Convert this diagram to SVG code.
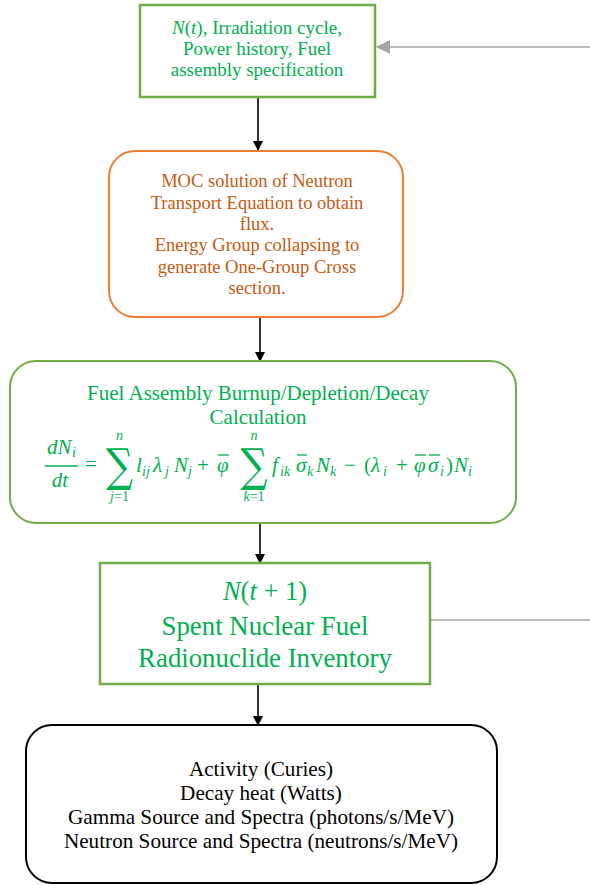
<svg xmlns="http://www.w3.org/2000/svg" width="590" height="885" viewBox="0 0 590 885">
<defs>
<marker id="ab" markerWidth="10" markerHeight="10" refX="9" refY="5" orient="auto" markerUnits="userSpaceOnUse"><path d="M0,0 L10,5 L0,10 Z" fill="#000"/></marker>
<marker id="ag" markerWidth="14" markerHeight="14" refX="13" refY="7" orient="auto" markerUnits="userSpaceOnUse"><path d="M0,0 L14,7 L0,14 Z" fill="#A5A5A5"/></marker>
</defs>
<style>
.t{font-family:"Liberation Serif","Times New Roman",serif;text-anchor:middle}
.g{fill:#00B050}
.o{fill:#C55A11}
.k{fill:#000}
.m{font-family:"Liberation Serif","Times New Roman",serif;font-style:italic;fill:#00B050;font-size:21px}
.s{font-family:"Liberation Serif","Times New Roman",serif;font-style:italic;fill:#00B050;font-size:14px}
.u{font-family:"Liberation Serif","Times New Roman",serif;fill:#00B050;font-size:21px}
.sum{font-family:"DejaVu Serif",serif;fill:#00B050;font-size:38px;text-anchor:middle}
.bar{stroke:#00B050;stroke-width:1.3}
.c{fill:none;stroke:#000;stroke-width:1.6}
</style>
<rect width="590" height="885" fill="#fff"/>
<g id="connectors">
<line x1="590" y1="47" x2="377" y2="47" stroke="#A5A5A5" stroke-width="1.6" marker-end="url(#ag)"/>
<line x1="431" y1="620" x2="590" y2="620" stroke="#A5A5A5" stroke-width="1.6"/>
<line class="c" x1="258" y1="98" x2="258" y2="150" marker-end="url(#ab)"/>
<line class="c" x1="260" y1="318" x2="260" y2="361" marker-end="url(#ab)"/>
<line class="c" x1="260" y1="524" x2="260" y2="563" marker-end="url(#ab)"/>
<line class="c" x1="258" y1="685" x2="258" y2="725" marker-end="url(#ab)"/>
</g>
<g id="input">
<rect x="140" y="5" width="235" height="92" fill="#fff" stroke="#70AD47" stroke-width="2.5"/>
<text class="t g" font-size="19" x="257" y="34"><tspan font-style="italic">N</tspan>(<tspan font-style="italic">t</tspan>), Irradiation cycle,</text>
<text class="t g" font-size="19" x="257" y="55">Power history, Fuel</text>
<text class="t g" font-size="19" x="257" y="76">assembly specification</text>
</g>
<g id="moc">
<rect x="109" y="151" width="294" height="166" rx="26" fill="#fff" stroke="#ED7D31" stroke-width="2"/>
<text class="t o" font-size="18.5" x="257" y="187">MOC solution of Neutron</text>
<text class="t o" font-size="18.5" x="257" y="209">Transport Equation to obtain</text>
<text class="t o" font-size="18.5" x="257" y="230">flux.</text>
<text class="t o" font-size="18.5" x="257" y="251">Energy Group collapsing to</text>
<text class="t o" font-size="18.5" x="257" y="273">generate One-Group Cross</text>
<text class="t o" font-size="18.5" x="257" y="294">section.</text>
</g>
<g id="burnup">
<rect x="10" y="361" width="506" height="162" rx="26" fill="#fff" stroke="#70AD47" stroke-width="2"/>
<text class="t g" font-size="21" x="258" y="400">Fuel Assembly Burnup/Depletion/Decay</text>
<text class="t g" font-size="21" x="258" y="424">Calculation</text>
<text class="m" x="47" y="454">dN</text><text class="s" x="72" y="457">i</text>
<line class="bar" x1="45" y1="466" x2="78" y2="466"/>
<text class="m" x="60" y="487" text-anchor="middle">dt</text>
<text class="u" x="85" y="471">=</text>
<text class="sum" transform="translate(119.5,481) scale(1,1.2)">∑</text>
<text class="s" x="119.5" y="440" text-anchor="middle">n</text>
<text class="s" x="119.5" y="501" text-anchor="middle">j<tspan font-style="normal">=1</tspan></text>
<text class="m" x="136" y="472">l</text><text class="s" x="142" y="476">ij</text>
<text class="m" x="153" y="472">λ</text><text class="s" x="165" y="476">j</text>
<text class="m" x="174" y="472">N</text><text class="s" x="188" y="476">j</text>
<text class="u" x="197" y="472">+</text>
<text class="m" x="217" y="472">φ</text><line class="bar" x1="218" y1="455" x2="229" y2="455"/>
<text class="sum" transform="translate(254,481) scale(1,1.2)">∑</text>
<text class="s" x="254" y="440" text-anchor="middle">n</text>
<text class="s" x="254" y="501" text-anchor="middle">k<tspan font-style="normal">=1</tspan></text>
<text class="m" x="272" y="472">f</text><text class="s" x="280" y="476">ik</text>
<text class="m" x="296" y="472">σ</text><line class="bar" x1="297" y1="455" x2="307" y2="455"/><text class="s" x="307" y="476">k</text>
<text class="m" x="316" y="472">N</text><text class="s" x="330" y="476">k</text>
<text class="u" x="344" y="472">−</text>
<text class="u" x="364" y="472">(</text>
<text class="m" x="371" y="472">λ</text><text class="s" x="383" y="476">i</text>
<text class="u" x="396" y="472">+</text>
<text class="m" x="414" y="472">φ</text><line class="bar" x1="415" y1="455" x2="426" y2="455"/>
<text class="m" x="428" y="472">σ</text><line class="bar" x1="429" y1="455" x2="440" y2="455"/><text class="s" x="440" y="476">i</text>
<text class="u" x="446" y="472">)</text>
<text class="m" x="454" y="472">N</text><text class="s" x="468" y="476">i</text>
</g>
<g id="inventory">
<rect x="100" y="563" width="330" height="121" fill="#fff" stroke="#70AD47" stroke-width="2.5"/>
<text class="t g" font-size="26.5" x="265" y="600"><tspan font-style="italic">N</tspan>(<tspan font-style="italic">t</tspan> + 1)</text>
<text class="t g" font-size="26.8" x="265" y="635">Spent Nuclear Fuel</text>
<text class="t g" font-size="26.8" x="265" y="667">Radionuclide Inventory</text>
</g>
<g id="outputs">
<rect x="26" y="725" width="471" height="158" rx="26" fill="#fff" stroke="#000" stroke-width="2"/>
<text class="t k" font-size="21.2" x="261" y="776">Activity (Curies)</text>
<text class="t k" font-size="21.2" x="261" y="800">Decay heat (Watts)</text>
<text class="t k" font-size="21.2" x="261" y="824">Gamma Source and Spectra (photons/s/MeV)</text>
<text class="t k" font-size="21.2" x="261" y="848">Neutron Source and Spectra (neutrons/s/MeV)</text>
</g>
</svg>
